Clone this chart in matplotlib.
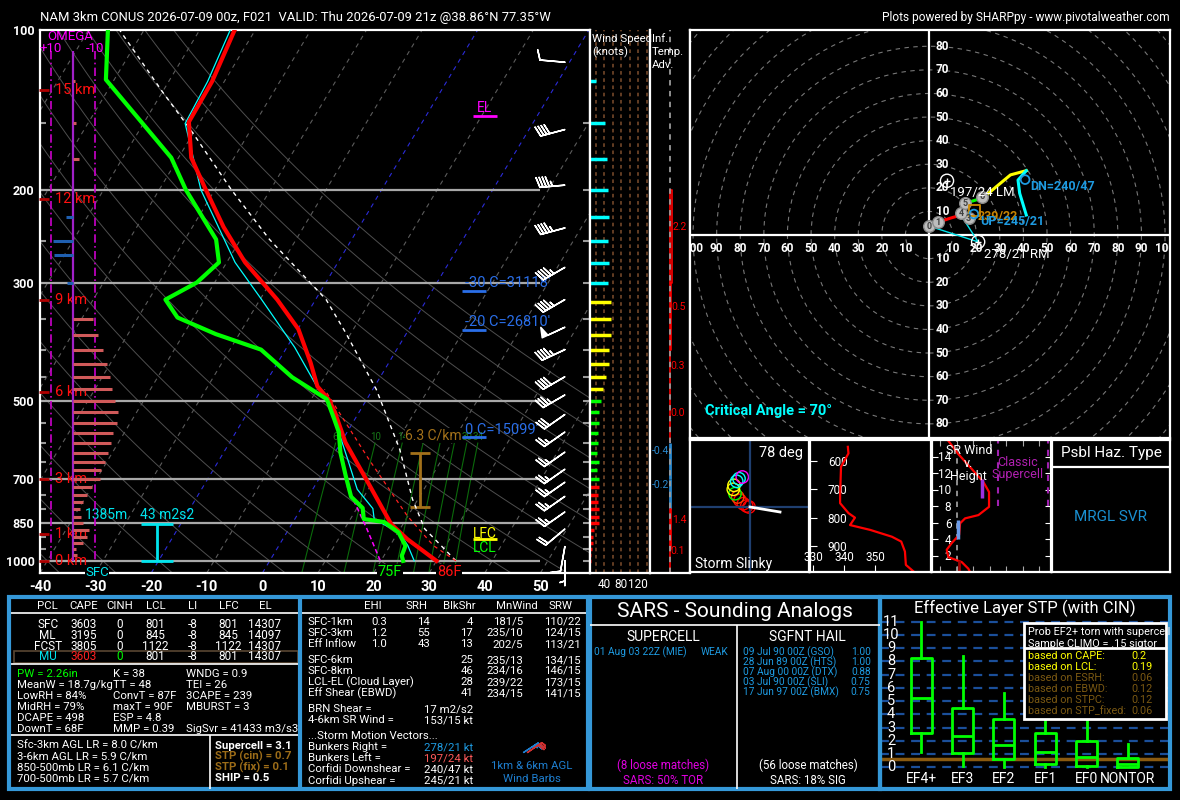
import numpy as np
import matplotlib
matplotlib.use("Agg")
import matplotlib.pyplot as plt
from matplotlib.patches import Rectangle

plt.rcParams['font.family'] = ['Roboto', 'DejaVu Sans']
plt.rcParams['axes.unicode_minus'] = False

# ======================= DATA =======================
title_left = "NAM 3km CONUS 2026-07-09 00z, F021  VALID: Thu 2026-07-09 21z @38.86°N 77.35°W"
title_right = "Plots powered by SHARPpy - www.pivotalweather.com"

temp_p = [1000, 910, 853, 700, 598, 524, 496, 469, 423, 366, 322, 274, 235, 200, 174, 149, 125, 100]
temp_c = [30.0, 22.4, 17.9, 8.4, 0.8, -4.4, -6.9, -10.3, -14.1, -19.9, -26.9, -36.7, -44.4, -51.6, -57.7, -62.0, -62.2, -63.7]
dwpt_p = [1000, 978, 937, 884, 845, 834, 795, 757, 692, 625, 572, 541, 496, 451, 400, 374, 348, 322, 299, 274, 248, 200, 174, 124, 100]
dwpt_c = [24.0, 23.2, 22.8, 20.1, 16.4, 12.4, 11.0, 7.7, 4.5, 1.0, -1.5, -3.7, -7.2, -15.8, -24.4, -34.2, -42.9, -47.0, -43.2, -41.4, -44.4, -55.2, -61.3, -81.5, -86.5]
wetb_p = [1000, 936, 884, 835, 797, 733, 643, 590, 496, 475, 396, 322, 274, 200, 150, 125, 100]
wetb_c = [26.0, 23.2, 20.2, 14.3, 12.9, 8.0, 3.0, -0.3, -7.2, -9.8, -18.6, -29.7, -38.5, -52.5, -62.5, -63.0, -64.5]
parcel_p = [1000, 870, 765, 616, 475, 371, 322, 248, 200, 156, 131, 100]
parcel_c = [33.5, 24.4, 19.0, 11.3, 0.6, -11.1, -18.1, -34.8, -47.0, -60.2, -69.9, -84.4]
parcel2_p = [1000, 936, 823, 643, 475]
parcel2_c = [33.5, 27.8, 19.9, 6.8, -8.7]
dcape_p = [724, 870, 1000]
dcape_c = [5.9, 14.0, 19.9]
mix_ratios = [6, 10, 14, 18, 22, 26, 30, 34]
mix_labelled = [6, 10, 14, 30, 34]
isobar_levels = [200, 300, 500, 700, 850, 1000]
temp_ticks = [-40, -30, -20, -10, 0, 10, 20, 30, 40, 50]

barb_p = [115, 154, 196, 236, 280, 322, 363, 400, 450, 487, 530, 572, 624, 672, 711, 756, 809, 871, 940, 999]
barb_dir = [275, 255, 265, 255, 240, 240, 245, 245, 240, 240, 235, 235, 235, 235, 235, 235, 235, 230, 190, 180]
barb_spd = [10, 40, 45, 45, 45, 45, 50, 45, 40, 35, 30, 25, 25, 25, 25, 25, 25, 20, 10, 5]

km_labels = [0, 1, 3, 6, 9, 12, 15]
km_press = [1000, 890, 702, 481, 323, 208, 129.5]

omega_p = [125, 150, 175, 225, 250, 265, 300, 350, 375, 400, 425, 450, 475, 500, 525, 550, 575, 600,
           625, 650, 675, 700, 725, 750, 775, 800, 825, 850, 875, 900, 925, 950, 975]
omega_v = [-0.7, -1.5, -2.9, 3.3, 9.0, 8.5, 2.9, -9.0, -11.2, -13.5, -15.3, -16.8, -17.6, -19.1, -20.3,
           -19.9, -18.0, -17.1, -15.8, -14.7, -12.9, -12.3, -8.5, -6.2, -4.4, -3.2, -3.6, -4.7, -7.4, -6.2,
           -4.4, -1.4, -1.8]

ws_p = list(range(125, 1001, 25))
ws_kt = [21, 42, 48, 49, 52, 49, 52, 49, 56, 56, 56, 52, 52, 45, 38, 33, 28, 28, 26, 26, 23, 27, 23, 27,
         27, 25, 25, 27, 27, 27, 17, 15, 13, 11, 9, 9]
ws_ticks = [40, 80, 120]

adv_top = [200, 300, 400, 500, 600, 700, 800, 950]
adv_bot = [300, 400, 500, 600, 700, 800, 950, 1050]
adv_val = [2.2, 0.5, 0.3, 0.0, -0.4, -0.2, 1.4, 0.1]

hodo_km = [0, 1, 2, 3, 4, 5, 6, 7, 8, 9, 10, 11, 12]
hodo_u = [0.0, 3.8, 8.8, 12.6, 13.7, 15.1, 22.9, 28.5, 34.5, 41.2, 37.7, 38.4, 41.2]
hodo_v = [3.8, 5.4, 7.1, 8.2, 9.9, 13.4, 15.8, 20.5, 25.5, 27.3, 23.3, 17.7, 8.5]
hodo_mark_lbl = ['0', '1', '3', '4', '5', '6']
hodo_mark_u = [0.0, 3.8, 16.8, 13.7, 15.4, 22.5]
hodo_mark_v = [3.8, 5.4, 7.1, 9.2, 13.4, 16.2]
rm_uv = (20.8, -2.9)
lm_uv = (7.6, 23.0)
dn_uv = (40.7, 23.5)
up_uv = (19.0, 8.9)
mw_uv = (19.2, 10.4)
inflow_top_uv = (13.2, 8.9)

slinky_dx = [-1.0, -3.3, -6.7, -10.0, -12.3, -15.0, -16.7, -16.0, -13.3, -11.0, -7.7]
slinky_dy = [0.0, 1.0, 3.3, 6.7, 10.0, 13.3, 17.7, 21.7, 25.7, 28.3, 30.0]
slinky_col = ['#ff0000', '#ff0000', '#ff0000', '#ff0000', '#ff4000', '#00ff00', '#ffff00', '#ffff00',
              '#00ffff', '#00ffff', '#ff00ff']
slinky_deg = 78

thetae_p = [550, 573, 620, 719, 748, 783, 799, 825, 842, 866, 883, 918, 965, 993]
thetae_k = [341.2, 341.4, 339.0, 338.7, 338.7, 341.4, 343.5, 341.9, 348.4, 355.4, 358.4, 359.6, 359.9, 362.9]

srw_km = [0, 0.4, 1.2, 1.8, 2.7, 3.5, 4.5, 5.9, 6.5, 6.9, 7.9, 9.7, 10.9, 12.5, 14.3, 15.9]
srw_kt = [23, 22, 18, 9.9, 8.9, 11.9, 16.4, 17, 20, 28.1, 34.5, 34.5, 31.1, 24, 15.9, 9.9]

stp_cats = ["EF4+", "EF3", "EF2", "EF1", "EF0", "NONTOR"]
stp_whislo = [1.13, 0.12, 0.0, 0.0, 0.0, 0.0]
stp_q1 = [2.6, 1.06, 0.6, 0.25, 0.1, 0.0]
stp_med = [5.26, 2.36, 1.68, 1.18, 0.8, 0.22]
stp_q3 = [8.27, 4.5, 3.65, 2.6, 2.0, 0.73]
stp_whishi = [10.95, 8.4, 5.59, 3.57, 3.57, 1.76]
stp_cin_value = 0.65
stp_prob_lbl = ["based on CAPE:", "based on LCL:", "based on ESRH:", "based on EBWD:", "based on STPC:", "based on STP_fixed:"]
stp_prob_val = ["0.2", "0.19", "0.06", "0.12", "0.12", "0.06"]

pcl_cols = ["PCL", "CAPE", "CINH", "LCL", "LI", "LFC", "EL"]
pcl_names = ["SFC", "ML", "FCST", "MU"]
pcl_cape = [3603, 3195, 3805, 3603]
pcl_cinh = [0, 0, 0, 0]
pcl_lcl = [801, 845, 1122, 801]
pcl_li = [-8, -8, -8, -8]
pcl_lfc = [801, 845, 1122, 801]
pcl_el = [14307, 14097, 14307, 14307]
idx_col1 = ["PW = 2.26in", "MeanW = 18.7g/kg", "LowRH = 84%", "MidRH = 79%", "DCAPE = 498", "DownT = 68F"]
idx_col2 = ["K = 38", "TT = 48", "ConvT = 87F", "maxT = 90F", "ESP = 4.8", "MMP = 0.39"]
idx_col3 = ["WNDG = 0.9", "TEI = 26", "3CAPE = 239", "MBURST = 3", "", "SigSvr = 41433 m3/s3"]
lapse_rates = ["Sfc-3km AGL LR = 8.0 C/km", "3-6km AGL LR = 5.9 C/km", "850-500mb LR = 6.1 C/km", "700-500mb LR = 5.7 C/km"]
comp_params = ["Supercell = 3.1", "STP (cin) = 0.7", "STP (fix) = 0.1", "SHIP = 0.5"]

kin_cols = ["EHI", "SRH", "BlkShr", "MnWind", "SRW"]
kin_rows1 = ["SFC-1km", "SFC-3km", "Eff Inflow"]
kin_ehi = ["0.3", "1.2", "1.0"]
kin_srh = ["14", "55", "43"]
kin_shr1 = ["4", "17", "13"]
kin_mnw1 = ["181/5", "235/10", "202/5"]
kin_srw1 = ["110/22", "124/15", "113/21"]
kin_rows2 = ["SFC-6km", "SFC-8km", "LCL-EL (Cloud Layer)", "Eff Shear (EBWD)"]
kin_shr2 = ["25", "46", "28", "41"]
kin_mnw2 = ["235/13", "234/16", "239/22", "234/15"]
kin_srw2 = ["134/15", "146/15", "173/15", "141/15"]
storm_lbl = ["Bunkers Right =", "Bunkers Left =", "Corfidi Downshear =", "Corfidi Upshear ="]
storm_val = ["278/21 kt", "197/24 kt", "240/47 kt", "245/21 kt"]

sars_sup = [("01 Aug 03 22Z (MIE)", "WEAK")]
sars_hail = [("09 Jul 90 00Z (GSO)", "1.00"), ("28 Jun 89 00Z (HTS)", "1.00"), ("07 Aug 00 00Z (DTX)", "0.88"),
             ("03 Jul 90 00Z (SLI)", "0.75"), ("17 Jun 97 00Z (BMX)", "0.75")]

# ======================= HELPERS =======================
W, H = 1180, 800
fig = plt.figure(figsize=(W / 100, H / 100), dpi=100, facecolor='black')

BLUE_BORDER = '#3598d8'
BROWN = '#9c6c18'
SKYBLUE = '#1e9ae0'


def fax(x0, y0, x1, y1, z=1, frame=True):
    ax = fig.add_axes([x0 / W, 1 - y1 / H, (x1 - x0) / W, (y1 - y0) / H], zorder=z)
    ax.set_facecolor('black')
    ax.set_xticks([])
    ax.set_yticks([])
    for s in ax.spines.values():
        s.set_color('white')
        s.set_linewidth(1.6)
        s.set_visible(frame)
    return ax


P_BOT, P_TOP = 1054.0, 100.0
SKEW = 24.93


def skx(t, p):
    return np.asarray(t, float) + SKEW * np.log(P_BOT / np.asarray(p, float))


def height_color(p):
    km = np.interp(np.log(p), np.log(km_press[::-1]), km_labels[::-1])
    if km < 3:
        return '#ff0000'
    if km < 6:
        return '#00ff00'
    if km < 9:
        return '#ffff00'
    return '#00ffff'


# ======================= SKEW-T =======================
sk = fax(40, 30, 590, 573, z=2)
sk.set_yscale('log')
sk.set_ylim(P_BOT, P_TOP)
sk.set_xlim(-40, -40 + 550 / 5.56)
pp = np.geomspace(P_BOT, P_TOP, 80)
for t0 in range(-110, 60, 10):
    col = '#2b2bd8' if t0 in (0, -20) else '#5c5c5c'
    sk.plot(skx([t0, t0], [P_BOT, P_TOP]), [P_BOT, P_TOP], ls=(0, (4, 4)), color=col, lw=0.8, zorder=1)
for th in range(-40, 111, 10):
    tt = (th + 273.15) * (pp / 1000.0) ** 0.2857 - 273.15
    sk.plot(skx(tt, pp), pp, color='#4e4e4e', lw=0.7, zorder=1)
pw = np.geomspace(P_BOT, 600, 30)
for w in mix_ratios:
    e = w * pw / (622.0 + w)
    lg = np.log(e / 6.112)
    td = 243.5 * lg / (17.67 - lg)
    sk.plot(skx(td, pw), pw, color='#0b6a0b', lw=0.8, zorder=1)
    if w in mix_labelled:
        sk.text(skx(td[-1], 600), 596, str(w), color='#187818', fontsize=7, ha='center', va='bottom', zorder=2)
sk.hlines(isobar_levels, -40, 50, color='#a8a8a8', lw=1.6, zorder=2)
tick_levels = [p for p in range(150, 1001, 50) if p not in isobar_levels]
sk.hlines(list(range(150, 1001, 50)), 0.987, 1.0, transform=sk.get_yaxis_transform(), color='#9a9a9a', lw=1.5)
sk.hlines(tick_levels, 0.0, 0.01, transform=sk.get_yaxis_transform(), color='#9a9a9a', lw=1.5)

sk.plot(skx(parcel_c, parcel_p), parcel_p, color='white', lw=1, ls=(0, (3, 3)), zorder=4)
sk.plot(skx(parcel2_c, parcel2_p), parcel2_p, color='#ff2020', lw=0.9, ls=(0, (3, 3)), zorder=4)
sk.plot(skx(dcape_c, dcape_p), dcape_p, color='#ff00ff', lw=1.1, ls=(0, (3, 2)), zorder=4)
sk.plot(skx(wetb_c, wetb_p), wetb_p, color='#00ffff', lw=0.9, zorder=5)
sk.plot(skx(temp_c, temp_p), temp_p, color='#ff0000', lw=3, zorder=6)
sk.plot(skx(dwpt_c, dwpt_p), dwpt_p, color='#00ff00', lw=3, zorder=6)

bd = np.radians(barb_dir)
bu = -np.array(barb_spd) * np.sin(bd)
bv = -np.array(barb_spd) * np.cos(bd)
sk.barbs(np.full(len(barb_p), 54.4), barb_p, bu, bv, length=6, color='white', lw=1.1,
         sizes=dict(emptybarb=0.0), clip_on=False, zorder=7)

sk.set_yticks(isobar_levels + [100])
sk.set_yticklabels([str(p) for p in isobar_levels] + ['100'])
sk.yaxis.set_minor_locator(matplotlib.ticker.NullLocator())
sk.tick_params(axis='y', length=0, pad=4, labelcolor='white', labelsize=9)
for lbl in sk.get_yticklabels():
    lbl.set_fontweight('bold')
sk.set_xticks(temp_ticks)
sk.set_xticklabels([str(t) for t in temp_ticks])
sk.tick_params(axis='x', length=0, pad=5, labelcolor='white', labelsize=10.5)
for lbl in sk.get_xticklabels():
    lbl.set_fontweight('bold')

ytr = sk.get_yaxis_transform()
for km, p in zip(km_labels, km_press):
    sk.text(0.027, p, f"{km} km", transform=ytr, color='#ff1010', fontsize=10.5, va='center', zorder=8)
    sk.hlines(p, -0.002, 0.017, transform=ytr, color='#b00000', lw=2, clip_on=False, zorder=8)

# annotations in skew-T
sk.text(0.809, 140, "EL", transform=ytr, color='#ff00ff', fontsize=10, ha='center', va='center')
sk.hlines(145, 0.787, 0.831, transform=ytr, color='#ff00ff', lw=2)
for txt, pl, pu in [("-30 C=31118'", 299, 310), ("-20 C=26810'", 355, 368), ("0 C=15099'", 567, 584)]:
    sk.text(0.773, pl, txt, transform=ytr, color='#2a6ee8', fontsize=10.5, va='center')
    sk.hlines(pu, 0.767, 0.811, transform=ytr, color='#2a6ee8', lw=2)
sk.text(0.787, 889, "LFC", transform=ytr, color='#ffff00', fontsize=10, va='center')
sk.hlines(910, 0.787, 0.831, transform=ytr, color='#ffff00', lw=2)
sk.text(0.787, 945, "LCL", transform=ytr, color='#00ff00', fontsize=10, va='center')
sk.text(0.664, 580, "6.3 C/km", transform=ytr, color='#a3711a', fontsize=10, va='center', zorder=9,
        bbox=dict(fc='black', ec='none', pad=0.3))
sk.vlines(0.691, 625, 792, transform=ytr, color='#a3711a', lw=2)
sk.hlines([625, 792], 0.673, 0.709, transform=ytr, color='#a3711a', lw=2)
sk.vlines(0.2127, 853, 1000, transform=ytr, color='#00e5ee', lw=2)
sk.hlines([853, 1000], 0.184, 0.242, transform=ytr, color='#00e5ee', lw=2)
sk.text(0.082, 820, "1385m", transform=ytr, color='#00e5ee', fontsize=10, va='center')
sk.text(0.182, 820, "43 m2s2", transform=ytr, color='#00e5ee', fontsize=10, va='center')

# ======================= OMEGA =======================
om = fax(40, 30, 130, 573, z=3, frame=False)
om.patch.set_visible(False)
om.set_yscale('log')
om.set_ylim(P_BOT, P_TOP)
om.set_xlim(15, -25.9)
om.vlines(0, 109.5, 1000, color='#a020c8', lw=1.6)
om.vlines([10, -10], 109.5, 1000, color='#cc00cc', lw=1.2, linestyles=(0, (5, 2, 1, 2)))
om_cols = ['#d05a5a' if v < 0 else '#1f5fb0' for v in omega_v]
om.hlines(omega_p, 0, omega_v, colors=om_cols, lw=2.2)
om.set_xticks([])
om.set_yticks([])
om.yaxis.set_minor_locator(matplotlib.ticker.NullLocator())

# ======================= WIND SPEED =======================
ws = fax(590, 30, 650, 573, z=2)
ws.spines['top'].set_visible(False)
ws.set_yscale('log')
ws.set_ylim(P_BOT, P_TOP)
ws.set_xlim(7, 148)
ws.yaxis.set_minor_locator(matplotlib.ticker.NullLocator())
ws.set_yticks([])
ws.vlines(range(20, 150, 20), P_BOT, P_TOP, color='#6b4226', lw=1.3, linestyles=(0, (2, 2)))
ws.hlines(ws_p, 0, ws_kt, colors=[height_color(p) for p in ws_p], lw=2.5)
for t in ws_ticks:
    ws.text(t, -0.01, str(t), transform=ws.get_xaxis_transform(), color='white', fontsize=8.5,
            ha='center', va='top')

# ======================= TEMP ADV =======================
ta = fax(650, 30, 690, 573, z=2)
ta.spines['top'].set_visible(False)
ta.set_yscale('log')
ta.set_ylim(P_BOT, P_TOP)
ta.set_xlim(-20, 20)
ta.yaxis.set_minor_locator(matplotlib.ticker.NullLocator())
ta.set_yticks([])
ta.vlines(0, P_BOT, P_TOP, color='#9a9a9a', lw=1.3, linestyles=(0, (3, 3)))
for pt, pb, v in zip(adv_top, adv_bot, adv_val):
    c = '#ff0000' if v >= 0 else '#2a8ad0'
    ta.fill_betweenx([pt, pb], 0, v, facecolor='none', edgecolor=c, lw=1.2 if v >= 0 else 2)
    pm = np.sqrt(pt * pb) * 0.96
    if v >= 0:
        ta.text(v + 0.5, pm, f"{v:.1f}", color='#ff0000', fontsize=7.5, ha='left', va='center')
    else:
        ta.text(v - 0.5, pm, f"{v:.1f}", color='#2a8ad0', fontsize=7.5, ha='right', va='center')

# ======================= HODOGRAPH =======================
hd = fax(690, 30, 1170, 438, z=2)
hd.set_xlim(-101.3, 102.1)
hd.set_ylim(-86.0, 86.9)
for r in range(10, 150, 10):
    hd.add_patch(plt.Circle((0, 0), r, fill=False, ls=(0, (4, 4)), color='#777777', lw=0.8))
hd.axhline(0, color='white', lw=1.6)
hd.axvline(0, color='white', lw=1.6)
for r in range(10, 101, 10):
    for s in (1, -1):
        hd.text(s * r, -5.5, str(r), color='white', fontsize=8.5, fontweight='bold', ha='center',
                va='center', clip_on=True)
for r in range(10, 81, 10):
    for s in (1, -1):
        hd.text(5.6, s * r, str(r), color='white', fontsize=8.5, fontweight='bold', ha='center',
                va='center', clip_on=True)
bands = [(0, 3, '#ff0000'), (3, 6, '#00ff00'), (6, 9, '#ffff00'), (9, 12, '#00ffff')]
hk = np.array(hodo_km)
for k0, k1, c in bands:
    m = (hk >= k0) & (hk <= k1)
    hd.plot(np.array(hodo_u)[m], np.array(hodo_v)[m], color=c, lw=2.2, zorder=4)
hd.plot([hodo_u[0], rm_uv[0], inflow_top_uv[0]], [hodo_v[0], rm_uv[1], inflow_top_uv[1]],
        color='#00e5ee', lw=1, zorder=3)
hd.scatter(hodo_mark_u, hodo_mark_v, s=70, facecolor='#bdbdbd', edgecolor='#8a8a8a', lw=1, zorder=6)
for l, u, v in zip(hodo_mark_lbl, hodo_mark_u, hodo_mark_v):
    hd.text(u, v, l, color='#404040', fontsize=6.5, fontweight='bold', ha='center', va='center', zorder=7)
for uv in (rm_uv, lm_uv):
    hd.scatter([uv[0]], [uv[1]], s=90, facecolor='none', edgecolor='white', lw=1, zorder=6)
    hd.scatter([uv[0]], [uv[1]], s=25, marker='+', color='white', lw=1, zorder=6)
hd.text(lm_uv[0] + 1.2, lm_uv[1] - 4.8, "197/24 LM", color='white', fontsize=9.5, ha='left', va='center', zorder=8)
hd.text(rm_uv[0] + 2.5, rm_uv[1] - 5.2, "278/21 RM", color='white', fontsize=9.5, ha='left', va='center', zorder=8)
hd.scatter([dn_uv[0]], [dn_uv[1]], s=40, facecolor='none', edgecolor=SKYBLUE, lw=1.3, zorder=6)
hd.text(dn_uv[0] + 2.3, dn_uv[1] - 3.0, "DN=240/47", color=SKYBLUE, fontsize=9, fontweight='bold', ha='left', va='center')
hd.scatter([mw_uv[0]], [mw_uv[1]], s=55, marker='s', facecolor='none', edgecolor='#d08a00', lw=1.3, zorder=6)
hd.text(mw_uv[0] + 1.5, mw_uv[1] - 2.6, "239/22", color='#c88400', fontsize=9, fontweight='bold', ha='left', va='center', zorder=7)
hd.scatter([up_uv[0]], [up_uv[1]], s=40, facecolor='none', edgecolor=SKYBLUE, lw=1.3, zorder=6)
hd.text(up_uv[0] + 2.6, up_uv[1] - 3.3, "UP=245/21", color=SKYBLUE, fontsize=9, fontweight='bold', ha='left', va='center', zorder=7)
hd.text(0.031, 0.066, "Critical Angle = 70°", transform=hd.transAxes, color='#00ffff', fontsize=10.5,
        fontweight='bold', ha='left', va='center')

# ======================= STORM SLINKY =======================
sl = fax(690, 440, 809, 572, z=2)
sl.set_xlim(-60, 59)
sl.set_ylim(-65, 67)
sl.axhline(0, color='#1f3f70', lw=1.6)
sl.axvline(0, color='#1f3f70', lw=1.6)
sl.scatter(slinky_dx, slinky_dy, s=80, facecolor='none', edgecolor=slinky_col, lw=1)
sl.plot([0, 30], [0, -5], color='white', lw=2)
sl.text(0.95, 0.9, f"{slinky_deg} deg", transform=sl.transAxes, color='white', fontsize=10.5, ha='right', va='center')
sl.text(0.04, 0.06, "Storm Slinky", transform=sl.transAxes, color='white', fontsize=10, ha='left', va='center')

# ======================= THETA-E =======================
te = fax(810, 440, 931, 572, z=2)
te.set_xlim(329, 368)
te.set_ylim(990, 526)
te.plot(thetae_k, thetae_p, color='#ff0000', lw=1.6)
te.set_yticks([600, 700, 800, 900])
te.set_xticks([330, 340, 350])
te.tick_params(axis='y', direction='in', length=5, pad=-27, colors='white', labelsize=8.5)
te.tick_params(axis='x', direction='in', length=5, pad=-15, colors='white', labelsize=8.5)

# ======================= SR WIND =======================
sr = fax(932, 440, 1051, 572, z=2)
sr.set_xlim(0, 72)
sr.set_ylim(0, 16)
sr.axvline(15, color='#9a9a9a', lw=1.3, ls=(0, (3, 3)))
sr.vlines([40, 70], 8, 16, color='#a020b0', lw=1.5, linestyles=(0, (3, 3)))
sr.plot(srw_kt, srw_km, color='#ff0000', lw=1.6)
sr.vlines(30, 9, 11.3, color='#9b30e0', lw=2.5)
sr.vlines(15.5, 4, 6.3, color='#6a9ae8', lw=2.5)
sr.vlines(16.3, 0, 1.5, color='#a00000', lw=2)
sr.set_yticks(range(2, 16, 2))
sr.set_xticks(range(5, 70, 10))
sr.tick_params(axis='y', direction='in', length=4, pad=-14, colors='white', labelsize=8.5, right=True)
sr.tick_params(axis='x', direction='in', length=4, labelbottom=False, colors='#aaaaaa', top=True)
sr.text(0.31, 0.92, "SR Wind", transform=sr.transAxes, color='white', fontsize=9, ha='center', va='center')
sr.text(0.31, 0.82, "v.", transform=sr.transAxes, color='white', fontsize=9, ha='center', va='center')
sr.text(0.31, 0.72, "Height", transform=sr.transAxes, color='white', fontsize=9, ha='center', va='center')
sr.text(52, 13.3, "Classic", color='#b020b0', fontsize=9, ha='center', va='center')
sr.text(52, 11.8, "Supercell", color='#b020b0', fontsize=9, ha='center', va='center')

# ======================= HAZARD =======================
hz = fax(1052, 440, 1170, 572, z=2)
hz.axhline(1 - 27 / 132, color='white', lw=1.6)
hz.text(0.5, 0.9, "Psbl Haz. Type", transform=hz.transAxes, color='white', fontsize=11, ha='center', va='center')
hz.text(0.5, 0.42, "MRGL SVR", transform=hz.transAxes, color='#1a8fd0', fontsize=11, ha='center', va='center')

# ======================= STP PANEL =======================
st = fax(880, 615, 1170, 790, z=2, frame=False)
st.set_xlim(0, 7.02)
st.set_ylim(-1.72, 11.5)
st.hlines(range(0, 12), 0, 7.02, color='#1b4f9a', lw=1.6, linestyles=(0, (4, 3)))
st.axhline(stp_cin_value, color='#8a5a10', lw=2.5)
stats = [dict(whislo=a, q1=b, med=c, q3=d, whishi=e, label=l)
         for a, b, c, d, e, l in zip(stp_whislo, stp_q1, stp_med, stp_q3, stp_whishi, stp_cats)]
pos = np.arange(1, len(stp_cats) + 1)
st.bxp(stats, positions=pos, widths=0.51, showfliers=False, showcaps=False,
       boxprops=dict(color='#00ff00', lw=2), medianprops=dict(color='#00ff00', lw=2),
       whiskerprops=dict(color='#00ff00', lw=2), manage_ticks=False)
for i in range(0, 12):
    st.text(0.27, i, str(i), color='white', fontsize=10.5, ha='center', va='center')
for x, l in zip(pos, stp_cats):
    st.text(x, -0.9, l, color='white', fontsize=10, ha='center', va='center')

# ======================= OVERLAY (pixel coords) =======================
ov = fig.add_axes([0, 0, 1, 1], zorder=50)
ov.set_xlim(0, W)
ov.set_ylim(H, 0)
ov.axis('off')


def T(x, y, s, c='white', fs=8.2, ha='left', va='center', **kw):
    return ov.text(x, y, s, color=c, fontsize=fs, ha=ha, va=va, **kw)


T(40, 17, title_left, fs=9.4)
T(1170, 17, title_right, fs=8.6, ha='right')
T(70, 37, "OMEGA", c='#ff00ff', fs=9.5, ha='center')
T(51, 48, "+10", c='#ff00ff', fs=9.5, ha='center')
T(95, 48, "-10", c='#ff00ff', fs=9.5, ha='center')
T(97, 573, "SFC", c='#00e5ee', fs=9.5, ha='center', bbox=dict(fc='black', ec='none', pad=0.5))
T(390, 572, "75F", c='#00ff00', fs=10.5, ha='center', bbox=dict(fc='black', ec='none', pad=0.5))
T(449, 572, "86F", c='#ff1010', fs=10.5, ha='center', bbox=dict(fc='black', ec='none', pad=0.5))
T(592, 39, "Wind Speed", fs=8.2)
T(592, 52, "(knots)", fs=8.2)
T(652, 39, "Inf.", fs=8.2)
T(652, 52, "Temp.", fs=8.2)
T(652, 65, "Adv.", fs=8.2)

# --- bottom borders
for (x0, x1) in [(9, 588), (590, 880), (880, 1170)]:
    ov.add_patch(Rectangle((x0, 597), x1 - x0, 192, fill=False, ec=BLUE_BORDER, lw=3))
ov.vlines(300, 597, 789, color=BLUE_BORDER, lw=3)

# --- parcel table
col_x = [47.8, 84, 119.6, 155.4, 192.6, 228.7, 264.9]
for x, h in zip(col_x, pcl_cols):
    T(x, 606, h, ha='center')
ov.hlines([613, 664, 735], 11, 298, color='white', lw=1.2)
ov.vlines(210, 735, 789, color='white', lw=1.2)
ov.add_patch(Rectangle((14, 651), 284, 11.5, fill=False, ec='#5a4632', lw=1.2))
row_y = [624.3, 635.3, 646, 657]
for i, y in enumerate(row_y):
    vals = [pcl_names[i], pcl_cape[i], pcl_cinh[i], pcl_lcl[i], pcl_li[i], pcl_lfc[i], pcl_el[i]]
    cols = ['white'] * 7
    if pcl_names[i] == 'MU':
        cols[0], cols[1], cols[2] = '#00e5ee', '#ff2020', '#00ff00'
    for x, v, c in zip(col_x, vals, cols):
        T(x, y, str(v), c=c, fs=8.5, ha='center')
idx_y = [674, 685, 696, 707, 718, 729]
for i, y in enumerate(idx_y):
    T(17, y, idx_col1[i], c='#00ff00' if i == 0 else 'white')
    T(113, y, idx_col2[i])
    T(186, y, idx_col3[i])
lr_y = [745.7, 756.7, 767.7, 778.3]
for i, y in enumerate(lr_y):
    T(17, y, lapse_rates[i])
    T(215, y, comp_params[i], c=BROWN if 'STP' in comp_params[i] else 'white', fontweight='bold')

# --- kinematic table
kin_x = [372.5, 416.9, 459.8, 517.3, 560.6]
for x, h in zip(kin_x, kin_cols):
    T(x, 606, h, ha='center')
ov.hlines(613, 302, 586, color='white', lw=1.2)
for i, y in enumerate([621.7, 632.7, 644]):
    T(307.7, y, kin_rows1[i])
    T(387, y, kin_ehi[i], ha='right')
    T(430, y, kin_srh[i], ha='right')
    T(473.3, y, kin_shr1[i], ha='right')
    T(523, y, kin_mnw1[i], ha='right')
    T(580.5, y, kin_srw1[i], ha='right')
for i, y in enumerate([660, 671, 682.3, 693.3]):
    T(307.7, y, kin_rows2[i])
    T(473.3, y, kin_shr2[i], ha='right')
    T(523, y, kin_mnw2[i], ha='right')
    T(580.5, y, kin_srw2[i], ha='right')
T(307.7, 709.3, "BRN Shear =")
T(473.3, 709.3, "17 m2/s2", ha='right')
T(307.7, 720.3, "4-6km SR Wind =")
T(473.3, 720.3, "153/15 kt", ha='right')
T(307.7, 736, "...Storm Motion Vectors...")
storm_cols = [SKYBLUE, '#ff5a5a', 'white', 'white']
for i, y in enumerate([747.3, 758.3, 769.3, 780.3]):
    T(307.7, y, storm_lbl[i])
    T(473.3, y, storm_val[i], c=storm_cols[i], ha='right')
T(532, 766, "1km & 6km AGL", c='#1e7fd0', ha='center')
T(532, 779, "Wind Barbs", c='#1e7fd0', ha='center')
bb = fax(505, 728, 545, 756, z=60, frame=False)
bb.patch.set_visible(False)
bb.set_xlim(0, 1)
bb.set_ylim(0, 1)
bb.barbs([0.45], [0.15], [-hodo_u[3] * 1.5], [-hodo_v[3] * 1.5], length=5, color='#1e7fd0', lw=1, sizes=dict(emptybarb=0))
bb.barbs([0.55], [0.15], [-hodo_u[6]], [-hodo_v[6]], length=5, color='#d03030', lw=1, sizes=dict(emptybarb=0))

# --- SARS
T(735, 611.7, "SARS - Sounding Analogs", fs=15, ha='center')
ov.hlines(625, 590, 880, color='white', lw=1.2)
ov.vlines(736.7, 625, 789, color='white', lw=1.2)
T(663, 636.7, "SUPERCELL", fs=10, ha='center')
T(807.5, 636.7, "SGFNT HAIL", fs=10, ha='center')
for i, (d, v) in enumerate(sars_sup):
    T(594.3, 652.3 + 10 * i, d, c=SKYBLUE, fs=7.3)
    T(728.3, 652.3 + 10 * i, v, c=SKYBLUE, fs=7.3, ha='right')
for i, (d, v) in enumerate(sars_hail):
    T(743.3, 652.3 + 10 * i, d, c=SKYBLUE, fs=7.3)
    T(870.7, 652.3 + 10 * i, v, c=SKYBLUE, fs=7.3, ha='right')
T(663, 765, "(8 loose matches)", c='#e000e0', fs=8.3, ha='center')
T(663, 780, "SARS: 50% TOR", c='#e000e0', fs=8.3, ha='center')
T(808, 765, "(56 loose matches)", fs=8.3, ha='center')
T(808, 780, "SARS: 18% SIG", fs=8.3, ha='center')

# --- STP title & legend
T(1025, 608, "Effective Layer STP (with CIN)", fs=12, ha='center')
leg = Rectangle((1024, 623), 142, 96, fc='black', ec='white', lw=2, zorder=3)
ov.add_patch(leg)
ov.hlines(648.3, 1024, 1166, color='white', lw=2, zorder=5)
for txt, y in [("Prob EF2+ torn with supercell", 632), ("Sample CLIMO = .15 sigtor", 644)]:
    t = T(1028, y, txt, fs=7.8, zorder=4)
    t.set_clip_path(leg)
for i, (l, v) in enumerate(zip(stp_prob_lbl, stp_prob_val)):
    c = '#ffff00' if i < 2 else '#7a5812'
    T(1028, 656 + 11 * i, l, c=c, fs=7.8, zorder=4)
    T(1131, 656 + 11 * i, v, c=c, fs=7.8, zorder=4)

fig.savefig("out.png", dpi=100, facecolor='black')
